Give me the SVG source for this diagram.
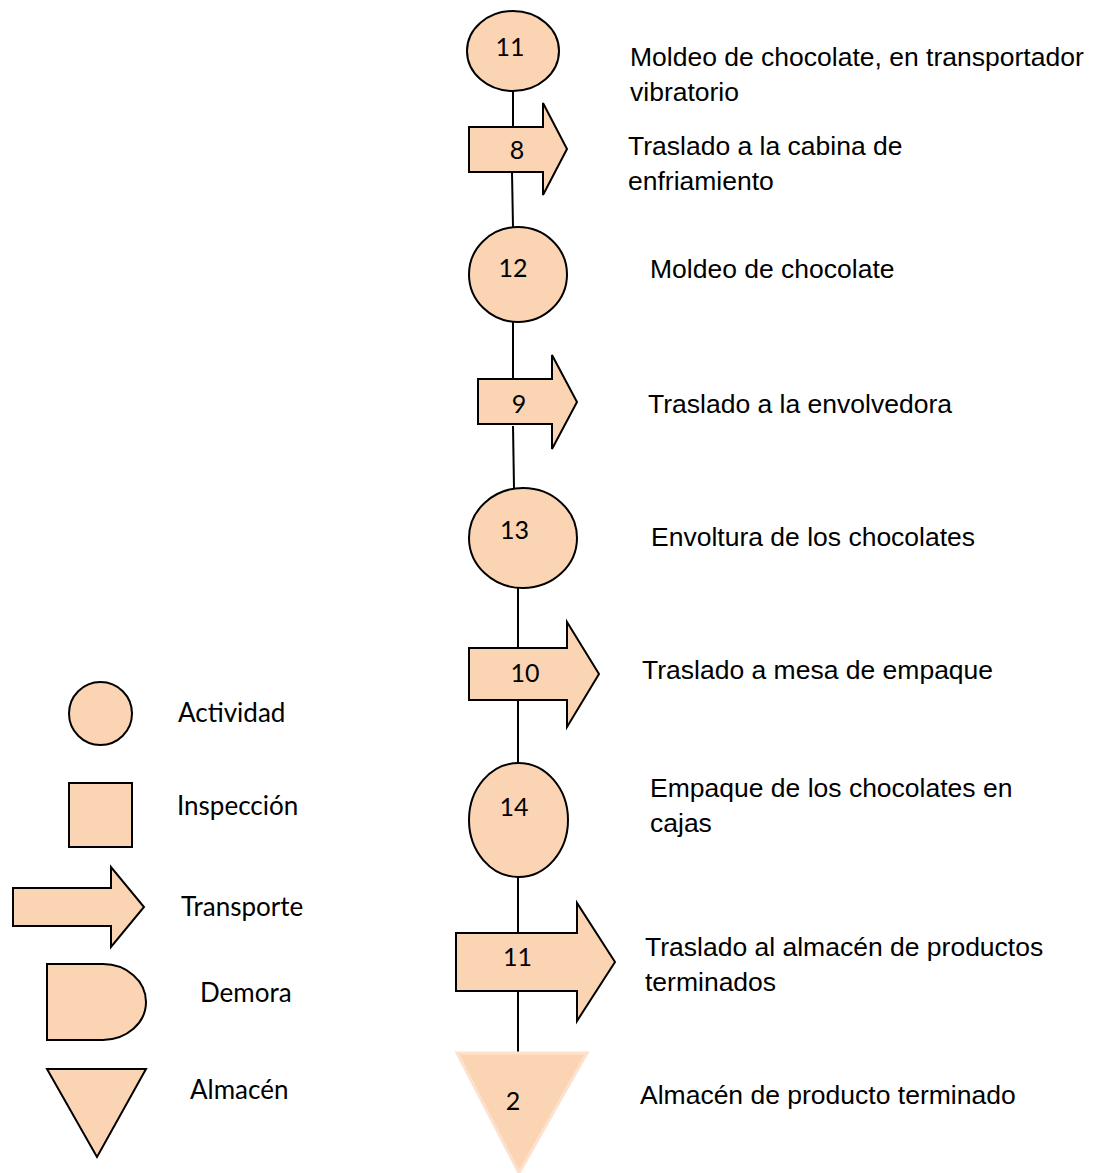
<svg xmlns="http://www.w3.org/2000/svg" width="1093" height="1173" viewBox="0 0 1093 1173">
  <style>
    .shape { fill: #FBD4B4; stroke: #000; stroke-width: 2; }
    .soft { fill: #FBD4B4; stroke: #FCE2CE; stroke-width: 3; }
    .conn { stroke: #000; stroke-width: 2; fill: none; }
    .num { font-family: Lato, "Open Sans", sans-serif; font-size: 25px; fill: #000; text-anchor: middle; }
    .legend { font-family: Lato, "Open Sans", sans-serif; font-size: 26px; fill: #000; }
    .desc { font-family: "Liberation Sans", sans-serif; font-size: 26.5px; fill: #000; }
  </style>

  <!-- connectors between the process steps -->
  <g id="connectors">
    <line class="conn" x1="513" y1="91" x2="513" y2="127"/>
    <line class="conn" x1="512" y1="172" x2="513" y2="227"/>
    <line class="conn" x1="513" y1="322" x2="513" y2="379"/>
    <line class="conn" x1="513" y1="426" x2="514" y2="488"/>
    <line class="conn" x1="518" y1="588" x2="518" y2="648"/>
    <line class="conn" x1="518" y1="700" x2="518" y2="763"/>
    <line class="conn" x1="518" y1="877" x2="518" y2="933"/>
    <line class="conn" x1="518" y1="991" x2="518" y2="1052"/>
  </g>

  <!-- process steps -->
  <g id="op11">
    <ellipse class="shape" cx="513" cy="51" rx="46" ry="40"/>
    <text class="num" x="510" y="56">11</text>
    <text class="desc" x="630" y="66">Moldeo de chocolate, en transportador</text>
    <text class="desc" x="630" y="101">vibratorio</text>
  </g>

  <g id="tr8">
    <polygon class="shape" points="469,127 543,127 543,103 567,149 543,195 543,172 469,172"/>
    <text class="num" x="517" y="159">8</text>
    <text class="desc" x="628" y="155">Traslado a la cabina de</text>
    <text class="desc" x="628" y="190">enfriamiento</text>
  </g>

  <g id="op12">
    <ellipse class="shape" cx="518" cy="274.5" rx="49" ry="47.5"/>
    <text class="num" x="513" y="277">12</text>
    <text class="desc" x="650" y="278">Moldeo de chocolate</text>
  </g>

  <g id="tr9">
    <polygon class="shape" points="478,379 552,379 552,355 577,402 552,449 552,424 478,424"/>
    <text class="num" x="519" y="413">9</text>
    <text class="desc" x="648" y="413">Traslado a la envolvedora</text>
  </g>

  <g id="op13">
    <ellipse class="shape" cx="523" cy="538" rx="54" ry="50"/>
    <text class="num" x="514.5" y="539">13</text>
    <text class="desc" x="651" y="546">Envoltura de los chocolates</text>
  </g>

  <g id="tr10">
    <polygon class="shape" points="469,648 567,648 567,622 599,674 567,727 567,700 469,700"/>
    <text class="num" x="525" y="682">10</text>
    <text class="desc" x="642" y="679">Traslado a mesa de empaque</text>
  </g>

  <g id="op14">
    <ellipse class="shape" cx="518.5" cy="820" rx="49.5" ry="57"/>
    <text class="num" x="514" y="816">14</text>
    <text class="desc" x="650" y="797">Empaque de los chocolates en</text>
    <text class="desc" x="650" y="832">cajas</text>
  </g>

  <g id="tr11">
    <polygon class="shape" points="456,933 577,933 577,903 615,962 577,1021 577,991 456,991"/>
    <text class="num" x="517.5" y="966">11</text>
    <text class="desc" x="645" y="956">Traslado al almacén de productos</text>
    <text class="desc" x="645" y="991">terminados</text>
  </g>

  <g id="store2">
    <polygon class="soft" points="457,1053 587,1053 519,1173"/>
    <text class="num" x="513" y="1110">2</text>
    <text class="desc" x="640" y="1104">Almacén de producto terminado</text>
  </g>

  <!-- legend of symbols -->
  <g id="legend-actividad">
    <circle class="shape" cx="100.5" cy="713.5" r="31.5"/>
    <text class="legend" x="178" y="722">Actividad</text>
  </g>
  <g id="legend-inspeccion">
    <rect class="shape" x="69" y="783" width="63" height="64"/>
    <text class="legend" x="177" y="815">Inspección</text>
  </g>
  <g id="legend-transporte">
    <polygon class="shape" points="13,888 111,888 111,867 144,907 111,947 111,926 13,926"/>
    <text class="legend" x="181" y="916">Transporte</text>
  </g>
  <g id="legend-demora">
    <path class="shape" d="M47,964 H103 A43,38 0 0 1 103,1040 H47 Z"/>
    <text class="legend" x="200" y="1002">Demora</text>
  </g>
  <g id="legend-almacen">
    <polygon class="shape" points="47,1069 146,1069 97,1157"/>
    <text class="legend" x="190" y="1099">Almacén</text>
  </g>
</svg>
